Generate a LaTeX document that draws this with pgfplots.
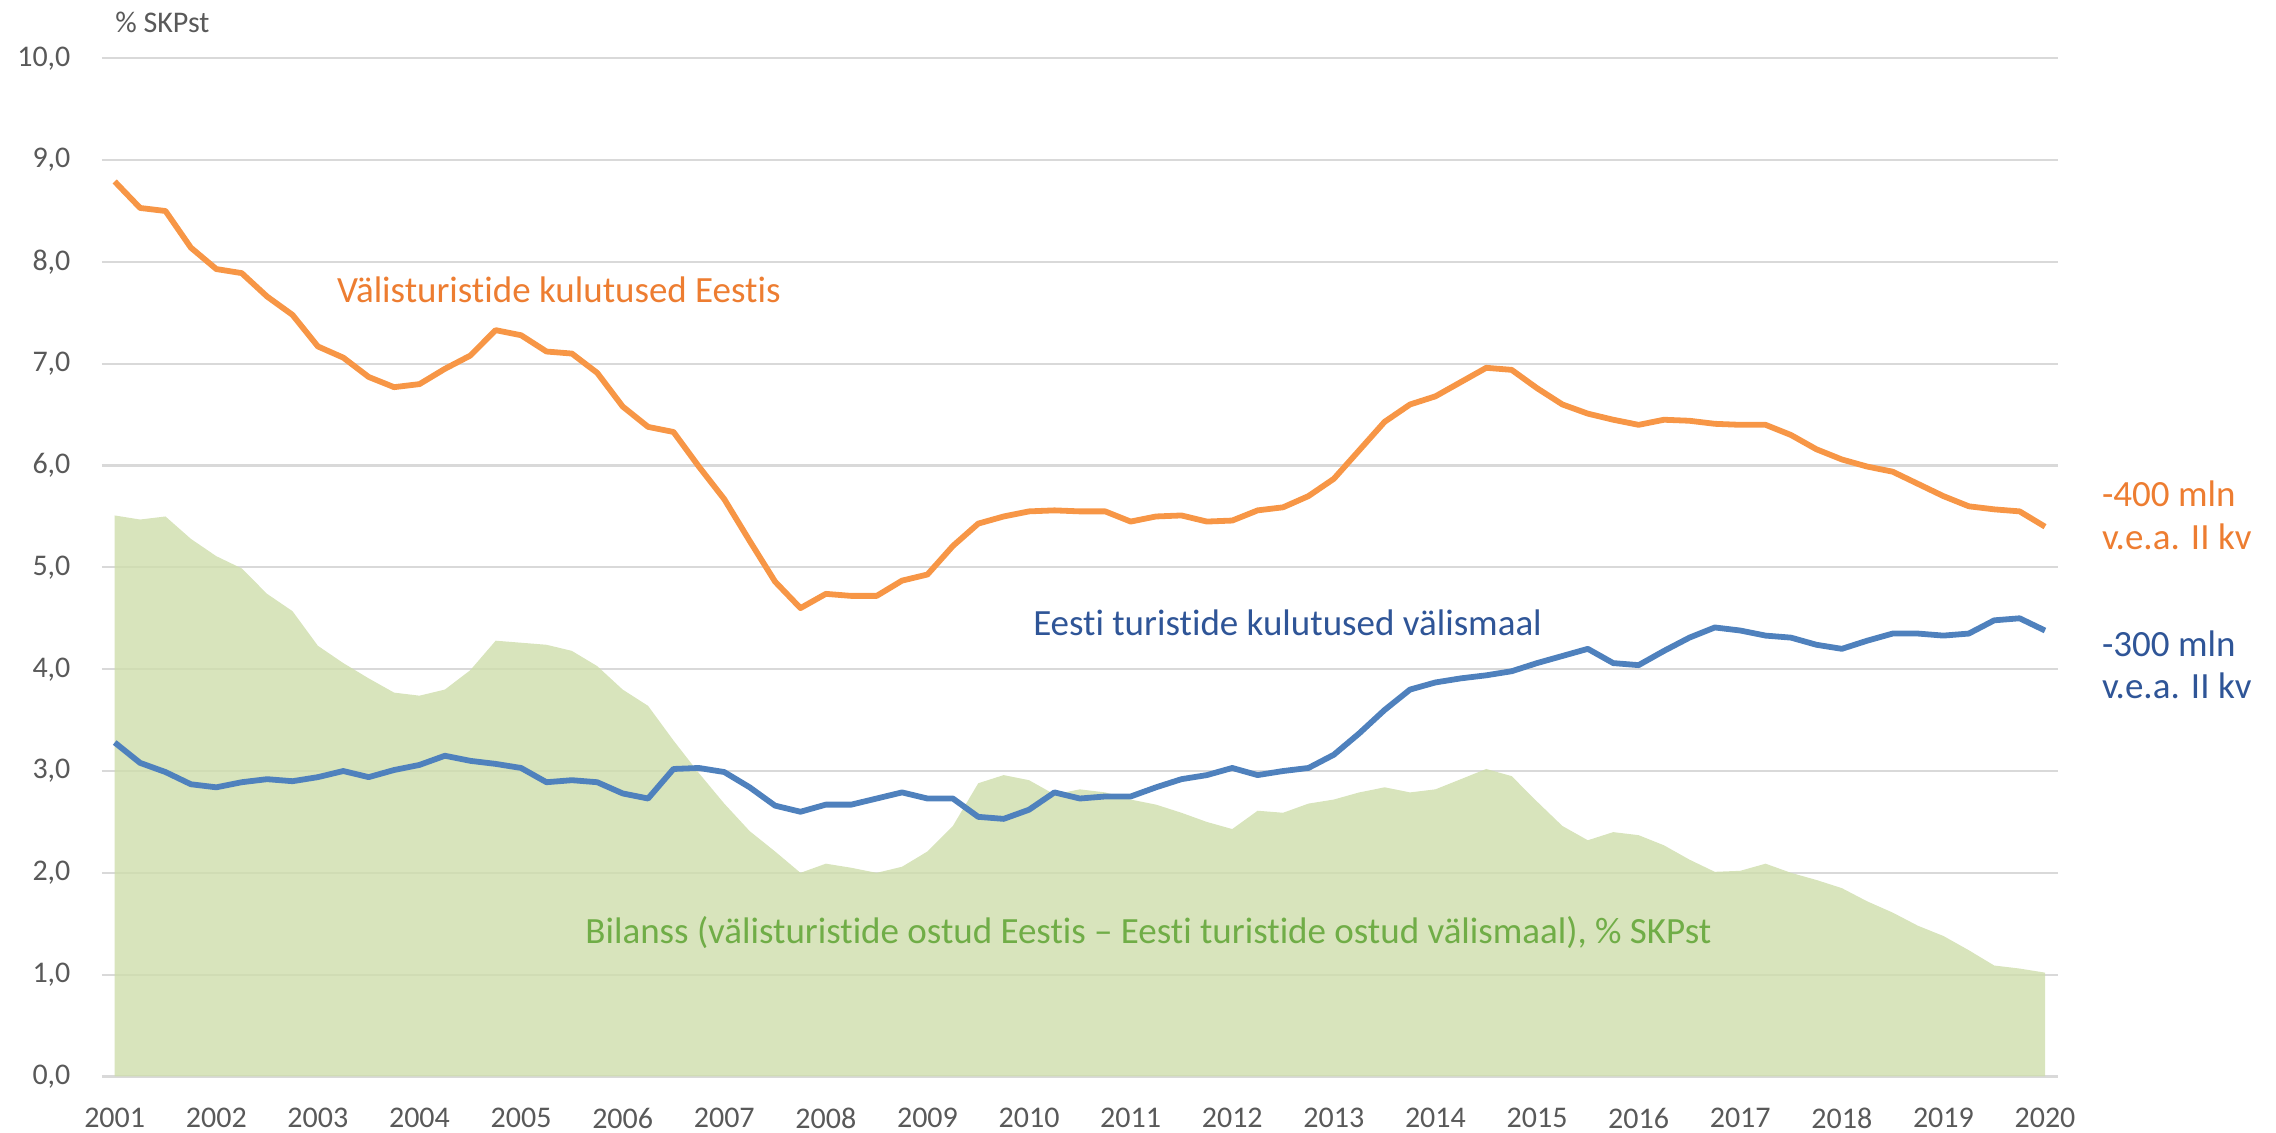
\documentclass[border=0pt]{standalone}
\usepackage{pgfplots}
\pgfplotsset{compat=1.18}
\usepackage{pgfplotstable}
\usepackage{fontspec}
\setmainfont{Carlito}[Ligatures={TeX,NoCommon}]
\definecolor{lineor}{HTML}{F79646}
\definecolor{linebl}{HTML}{4F81BD}
\definecolor{txtor}{HTML}{ED7D31}
\definecolor{txtbl}{HTML}{2F5597}
\definecolor{txtgr}{HTML}{70AD47}
\definecolor{areagr}{RGB}{206,221,171}
\definecolor{gridc}{HTML}{D9D9D9}
\definecolor{tickc}{HTML}{595959}

\pgfplotstableread{
i o b g
0 8.79 3.28 5.51
1 8.53 3.08 5.47
2 8.50 2.99 5.50
3 8.14 2.87 5.28
4 7.93 2.84 5.11
5 7.89 2.89 4.99
6 7.66 2.92 4.74
7 7.48 2.90 4.57
8 7.17 2.94 4.23
9 7.06 3.00 4.06
10 6.87 2.94 3.91
11 6.77 3.01 3.77
12 6.80 3.06 3.74
13 6.95 3.15 3.80
14 7.08 3.10 3.99
15 7.33 3.07 4.28
16 7.28 3.03 4.26
17 7.12 2.89 4.24
18 7.10 2.91 4.18
19 6.91 2.89 4.03
20 6.58 2.78 3.80
21 6.38 2.73 3.64
22 6.33 3.02 3.30
23 5.99 3.03 2.98
24 5.67 2.99 2.68
25 5.26 2.84 2.41
26 4.86 2.66 2.21
27 4.60 2.60 2.00
28 4.74 2.67 2.09
29 4.72 2.67 2.05
30 4.72 2.73 2.00
31 4.87 2.79 2.06
32 4.93 2.73 2.21
33 5.21 2.73 2.46
34 5.43 2.55 2.88
35 5.50 2.53 2.96
36 5.55 2.62 2.91
37 5.56 2.79 2.77
38 5.55 2.73 2.82
39 5.55 2.75 2.79
40 5.45 2.75 2.72
41 5.50 2.84 2.67
42 5.51 2.92 2.59
43 5.45 2.96 2.50
44 5.46 3.03 2.43
45 5.56 2.96 2.61
46 5.59 3.00 2.59
47 5.70 3.03 2.68
48 5.87 3.16 2.72
49 6.15 3.37 2.79
50 6.43 3.60 2.84
51 6.60 3.80 2.79
52 6.68 3.87 2.82
53 6.82 3.91 2.92
54 6.96 3.94 3.02
55 6.94 3.98 2.95
56 6.76 4.06 2.70
57 6.60 4.13 2.46
58 6.51 4.20 2.32
59 6.45 4.06 2.40
60 6.40 4.04 2.37
61 6.45 4.18 2.27
62 6.44 4.31 2.13
63 6.41 4.41 2.01
64 6.40 4.38 2.02
65 6.40 4.33 2.09
66 6.30 4.31 2.00
67 6.16 4.24 1.93
68 6.06 4.20 1.85
69 5.99 4.28 1.72
70 5.94 4.35 1.61
71 5.82 4.35 1.48
72 5.70 4.33 1.38
73 5.60 4.35 1.24
74 5.57 4.48 1.09
75 5.55 4.50 1.06
76 5.40 4.38 1.02
}\datatable

\begin{document}
\begin{tikzpicture}
\path[use as bounding box] (-51pt,-28.25pt) rectangle (1087pt,538.25pt);
\begin{axis}[
  scale only axis,
  width=977.85pt, height=509.1pt,
  xmin=-0.5, xmax=76.5, ymin=0, ymax=10,
  clip=false,
  axis line style={draw=none},
  major tick length=0pt,
  xtick={0,4,...,76},
  xticklabels={2001,2002,2003,2004,2005,2006,2007,2008,2009,2010,2011,2012,2013,2014,2015,2016,2017,2018,2019,2020},
  ytick={0,1,...,10},
  ymajorgrids,
  major grid style={draw=gridc, line width=1.1pt},
  tick label style={font=\fontsize{15}{18}\selectfont, text=tickc, inner sep=0pt},
  yticklabel style={anchor=east, xshift=-15.6pt,
    /pgf/number format/.cd, fixed, fixed zerofill, precision=1, use comma, assume math mode=true},
  xticklabel style={anchor=north, yshift=-15.5pt},
]
\addplot[fill=areagr, fill opacity=0.8, draw=none] table[x=i, y=g] {\datatable} \closedcycle;
\addplot[lineor, line width=2.9pt, line join=round] table[x=i, y=o] {\datatable};
\addplot[linebl, line width=2.9pt, line join=round] table[x=i, y=b] {\datatable};

\node[anchor=base west, inner sep=0pt, text=tickc, font=\fontsize{15}{18}\selectfont] at (axis cs:0.01,10.25) {\% SKPst};
\node[anchor=base west, inner sep=0pt, text=txtor, font=\fontsize{18.5}{21.3}\selectfont] at (axis cs:8.74,7.60) {Välisturistide kulutused Eestis};
\node[anchor=base west, inner sep=0pt, text=txtbl, font=\fontsize{18.5}{21.3}\selectfont] at (axis cs:36.15,4.33) {Eesti turistide kulutused välismaal};
\node[anchor=base west, inner sep=0pt, text=txtgr, font=\fontsize{18.5}{21.3}\selectfont] at (axis cs:18.52,1.31) {Bilanss (välisturistide ostud Eestis – Eesti turistide ostud välismaal), \% SKPst};
\node[anchor=base west, inner sep=0pt, text=txtor, font=\fontsize{18.5}{21.3}\selectfont] at (axis cs:78.23,5.60) {-400 mln};
\node[anchor=base west, inner sep=0pt, text=txtor, font=\fontsize{18.5}{21.3}\selectfont] at (axis cs:78.23,5.18) {v.e.a. II kv};
\node[anchor=base west, inner sep=0pt, text=txtbl, font=\fontsize{18.5}{21.3}\selectfont] at (axis cs:78.23,4.12) {-300 mln};
\node[anchor=base west, inner sep=0pt, text=txtbl, font=\fontsize{18.5}{21.3}\selectfont] at (axis cs:78.23,3.71) {v.e.a. II kv};
\end{axis}
\end{tikzpicture}
\end{document}
